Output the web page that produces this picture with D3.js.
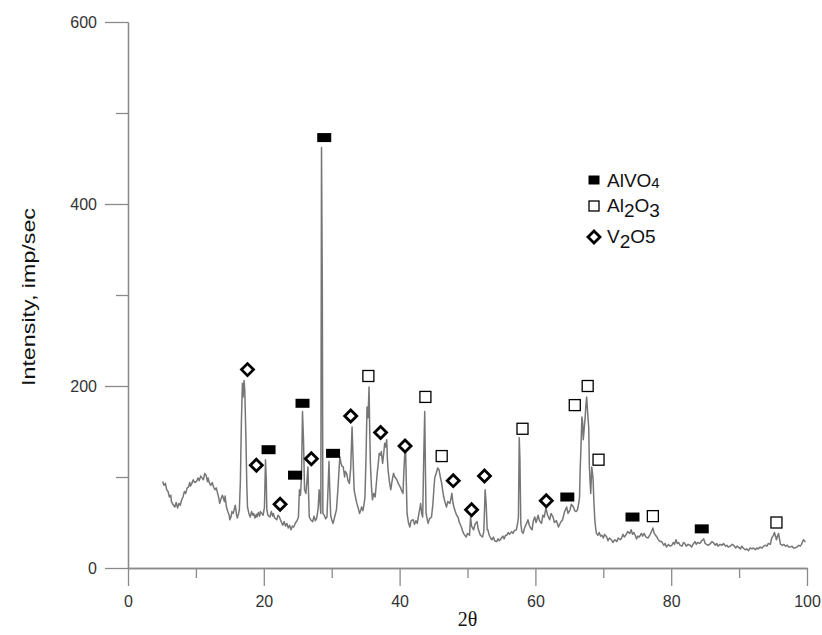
<!DOCTYPE html>
<html>
<head>
<meta charset="utf-8">
<script src="https://cdn.jsdelivr.net/npm/d3@7"></script>
<style>
  html, body { margin: 0; padding: 0; background: #fff; }
  svg { display: block; }
</style>
</head>
<body>
<svg id="chart" width="822" height="635"></svg>
<script>
// Diffractogram: [2θ, intensity (imp/sec)]
const pattern = [
  [5.1,95],[5.3,91],[5.5,93],[5.7,86],[5.9,84],[6.1,78],[6.3,80],[6.4,73],[6.6,70],[6.9,67],
  [7.1,72],[7.3,66],[7.5,71],[7.7,69],[7.9,75],[8.1,78],[8.3,84],[8.5,82],[8.7,88],[8.9,89],
  [9.1,94],[9.2,90],[9.4,93],[9.6,97],[9.8,94],[10.1,95],[10.3,99],[10.5,96],[10.7,101],[10.9,99],
  [11.1,97],[11.3,104],[11.5,102],[11.7,95],[11.8,99],[12.0,93],[12.2,91],[12.4,94],[12.6,89],[12.8,86],
  [13.0,88],[13.2,82],[13.4,76],[13.5,71],[13.7,76],[13.9,80],[14.0,78],[14.2,73],[14.3,79],[14.5,67],
  [14.7,62],[14.9,58],[15.0,53],[15.2,57],[15.3,62],[15.5,60],[15.7,66],[15.8,69],[16.0,58],[16.1,55],
  [16.3,60],[16.4,64],[16.55,95],[16.7,160],[16.85,203],[16.95,188],[17.1,206],[17.2,195],[17.35,148],[17.5,90],
  [17.6,67],[17.8,60],[18.0,56],[18.2,62],[18.4,58],[18.5,60],[18.7,55],[18.9,59],[19.0,56],[19.2,61],
  [19.4,57],[19.5,62],[19.7,60],[19.9,58],[20.1,67],[20.25,119],[20.35,100],[20.45,64],[20.6,58],[20.9,56],
  [21.1,62],[21.3,57],[21.4,60],[21.6,55],[21.9,53],[22.1,58],[22.3,56],[22.5,52],[22.8,47],[23.0,51],
  [23.2,46],[23.4,49],[23.6,44],[23.8,47],[24.0,42],[24.2,46],[24.4,45],[24.7,50],[24.9,52],[25.1,56],
  [25.25,86],[25.4,80],[25.55,100],[25.7,172],[25.85,140],[26.0,86],[26.2,82],[26.4,100],[26.5,111],[26.6,80],
  [26.7,56],[26.9,53],[27.2,51],[27.4,57],[27.6,52],[27.8,55],[28.0,65],[28.15,86],[28.3,70],[28.4,60],
  [28.5,462],[28.62,300],[28.7,60],[28.9,58],[29.1,54],[29.3,56],[29.5,95],[29.6,117],[29.7,90],[29.85,58],
  [30.0,53],[30.2,49],[30.4,55],[30.7,64],[30.9,85],[31.1,110],[31.2,122],[31.35,116],[31.5,112],[31.7,111],
  [31.9,100],[32.0,106],[32.2,104],[32.4,96],[32.6,93],[32.8,110],[33.0,155],[33.15,120],[33.3,86],[33.5,78],
  [33.7,71],[33.9,66],[34.1,60],[34.3,64],[34.4,67],[34.6,63],[34.8,72],[34.9,78],[35.05,120],[35.2,177],
  [35.35,165],[35.5,199],[35.6,150],[35.7,115],[35.85,90],[36.0,75],[36.2,82],[36.4,78],[36.6,95],[36.7,104],
  [36.9,118],[37.0,126],[37.2,124],[37.3,128],[37.5,115],[37.65,125],[37.8,137],[37.95,133],[38.1,141],[38.2,120],
  [38.3,108],[38.5,95],[38.7,86],[38.9,96],[39.1,104],[39.3,100],[39.6,97],[39.8,93],[40.1,89],[40.3,85],
  [40.5,82],[40.65,110],[40.8,130],[40.9,126],[41.0,90],[41.1,60],[41.3,50],[41.5,45],[41.7,52],[42.0,53],
  [42.2,48],[42.4,52],[42.6,49],[42.8,58],[43.0,66],[43.1,71],[43.25,60],[43.4,56],[43.55,120],[43.7,172],
  [43.8,110],[43.9,60],[44.1,52],[44.2,49],[44.4,54],[44.7,56],[44.9,70],[45.1,92],[45.2,100],[45.4,104],
  [45.6,110],[45.8,108],[46.0,100],[46.2,93],[46.35,85],[46.5,78],[46.7,72],[46.9,67],[47.1,73],[47.4,71],
  [47.55,76],[47.7,82],[47.85,72],[48.0,67],[48.2,62],[48.4,58],[48.6,56],[48.8,50],[49.1,45],[49.3,40],
  [49.5,37],[49.8,34],[50.0,38],[50.3,36],[50.45,56],[50.6,46],[50.9,42],[51.1,48],[51.4,51],[51.55,44],
  [51.7,40],[51.9,36],[52.2,34],[52.4,40],[52.6,86],[52.75,70],[52.9,42],[53.0,42],[53.2,36],[53.4,33],
  [53.6,31],[53.8,34],[54.0,30],[54.3,29],[54.5,32],[54.7,30],[55.0,33],[55.2,35],[55.4,32],[55.6,36],
  [55.8,36],[56.0,39],[56.2,37],[56.5,40],[56.7,38],[56.9,41],[57.2,42],[57.4,50],[57.5,56],[57.62,143],
  [57.72,120],[57.85,49],[58.0,40],[58.2,38],[58.4,44],[58.7,49],[58.9,53],[59.1,47],[59.3,44],[59.5,42],
  [59.7,52],[59.9,56],[60.1,50],[60.4,58],[60.6,52],[60.9,49],[61.1,58],[61.3,56],[61.55,66],[61.8,58],
  [62.1,53],[62.3,60],[62.6,56],[62.8,50],[63.1,52],[63.4,45],[63.7,50],[64.0,53],[64.3,62],[64.6,67],
  [64.8,60],[65.1,64],[65.3,70],[65.6,67],[65.8,63],[66.0,62],[66.2,64],[66.4,72],[66.5,78],[66.6,110],
  [66.7,130],[66.85,166],[66.95,160],[67.05,141],[67.15,150],[67.3,163],[67.45,180],[67.55,188],[67.7,170],[67.85,155],
  [67.95,111],[68.05,95],[68.15,82],[68.3,111],[68.4,105],[68.5,97],[68.6,75],[68.75,53],[68.9,42],[69.0,38],
  [69.2,36],[69.4,39],[69.6,35],[69.8,36],[70.0,33],[70.2,37],[70.5,34],[70.7,30],[70.9,33],[71.2,31],
  [71.4,28],[71.7,31],[72.0,29],[72.2,33],[72.5,31],[72.7,33],[72.9,37],[73.1,34],[73.3,36],[73.6,40],
  [73.9,38],[74.1,42],[74.3,37],[74.5,39],[74.7,36],[74.9,32],[75.1,35],[75.3,34],[75.6,38],[75.8,35],
  [76.0,38],[76.3,34],[76.6,33],[76.9,37],[77.1,40],[77.3,44],[77.5,38],[77.7,36],[77.9,34],[78.1,31],
  [78.4,29],[78.6,29],[78.9,25],[79.1,27],[79.3,23],[79.6,26],[79.8,24],[80.1,25],[80.3,28],[80.5,26],
  [80.7,31],[80.9,27],[81.1,28],[81.3,25],[81.6,24],[81.8,28],[82.0,27],[82.2,24],[82.5,26],[82.8,25],
  [83.0,23],[83.3,27],[83.5,29],[83.7,26],[83.9,28],[84.2,27],[84.5,30],[84.8,32],[85.0,27],[85.2,26],
  [85.5,25],[85.8,27],[86.0,29],[86.2,28],[86.5,25],[86.7,27],[86.9,24],[87.2,26],[87.5,25],[87.7,27],
  [88.0,24],[88.2,25],[88.4,23],[88.7,24],[89.0,26],[89.2,25],[89.5,22],[89.7,24],[89.9,23],[90.2,21],
  [90.4,24],[90.6,22],[90.9,20],[91.1,21],[91.4,19],[91.6,22],[91.9,21],[92.1,22],[92.4,20],[92.6,22],
  [92.8,21],[93.1,23],[93.4,22],[93.6,24],[93.9,25],[94.1,24],[94.3,27],[94.6,26],[94.8,33],[95.0,35],
  [95.2,39],[95.4,34],[95.5,31],[95.7,36],[95.8,38],[96.0,30],[96.1,26],[96.4,25],[96.6,26],[96.8,24],
  [97.1,25],[97.3,23],[97.5,23],[97.8,24],[98.0,22],[98.2,22],[98.5,23],[98.8,25],[99.0,24],[99.2,26],
  [99.4,30],[99.5,31],[99.7,29],[99.8,29]
];

// Phase markers: [2θ, height at which the marker sits]
const alvo4Marks = [[20.7,130],[24.6,102],[25.7,181],[28.9,473],[30.2,126],[64.7,78],[74.3,56],[84.5,43]];
const al2o3Marks = [[35.4,211],[43.8,188],[46.2,123],[58.1,153],[65.8,179],[67.7,200],[69.3,119],[77.3,57],[95.5,50]];
const v2o5Marks  = [[17.6,218],[18.9,113],[22.4,70],[27.0,120],[32.8,167],[37.2,149],[40.8,134],[47.9,96],[50.6,64],[52.5,101],[61.6,74]];

// Axis ticks
const xMajorTicks = [0, 20, 40, 60, 80, 100];
const xMinorTicks = [10, 30, 50, 70, 90];
const yMajorTicks = [0, 200, 400, 600];
const yMinorTicks = [100, 300, 500];

const svg = d3.select("#chart");
const axisColor = "#8a8a8a";
const labelColor = "#333";

const x = d3.scaleLinear().domain([0, 100]).range([128, 807]);
const y = d3.scaleLinear().domain([0, 600]).range([568, 22]);

function styleAxis(g) {
  g.selectAll("path.domain").attr("stroke", axisColor).attr("stroke-width", 1.3);
  g.selectAll(".tick line").attr("stroke", axisColor).attr("stroke-width", 1.3);
  g.selectAll(".tick text")
    .attr("fill", labelColor)
    .style("font-family", "'Liberation Sans', Arial, sans-serif")
    .style("font-size", "16px");
}

// y axis
svg.append("g")
  .attr("transform", `translate(${x(0)},0)`)
  .call(d3.axisLeft(y).tickValues(yMajorTicks).tickSize(23).tickSizeOuter(0).tickPadding(8).tickFormat(d3.format("d")))
  .call(styleAxis);
svg.append("g")
  .attr("transform", `translate(${x(0)},0)`)
  .call(d3.axisLeft(y).tickValues(yMinorTicks).tickSize(12).tickSizeOuter(0).tickFormat(""))
  .call(styleAxis);

// x axis
svg.append("g")
  .attr("transform", `translate(0,${y(0)})`)
  .call(d3.axisBottom(x).tickValues(xMajorTicks).tickSize(18).tickSizeOuter(0).tickPadding(10).tickFormat(d3.format("d")))
  .call(styleAxis);
svg.append("g")
  .attr("transform", `translate(0,${y(0)})`)
  .call(d3.axisBottom(x).tickValues(xMinorTicks).tickSize(10).tickSizeOuter(0).tickFormat(""))
  .call(styleAxis);

// axis titles
svg.append("text")
  .attr("transform", `translate(30,${(y(0) + y(600)) / 2 + 2}) rotate(-90)`)
  .attr("text-anchor", "middle")
  .attr("dominant-baseline", "middle")
  .attr("textLength", 178)
  .attr("lengthAdjust", "spacingAndGlyphs")
  .style("font-family", "'Liberation Sans', Arial, sans-serif")
  .style("font-size", "18px")
  .attr("fill", "#111")
  .text("Intensity, imp/sec");

svg.append("text")
  .attr("x", (x(0) + x(100)) / 2)
  .attr("y", 626)
  .attr("text-anchor", "middle")
  .style("font-family", "'Liberation Serif', 'Times New Roman', serif")
  .style("font-size", "20px")
  .attr("fill", "#111")
  .text("2θ");

// diffraction trace
const line = d3.line().x(d => x(d[0])).y(d => y(d[1]));
svg.append("path")
  .datum(pattern)
  .attr("fill", "none")
  .attr("stroke", "#767676")
  .attr("stroke-width", 1.5)
  .attr("stroke-linejoin", "round")
  .attr("d", line);

// marker drawers
const diamondPath = r => `M0,${-r}L${r},0L0,${r}L${-r},0Z`;

function drawFilled(g, cx, cy, w, h) {
  g.append("rect").attr("x", cx - w / 2).attr("y", cy - h / 2)
    .attr("width", w).attr("height", h).attr("fill", "#000");
}
function drawOpen(g, cx, cy, s) {
  g.append("rect").attr("x", cx - s / 2).attr("y", cy - s / 2)
    .attr("width", s).attr("height", s)
    .attr("fill", "#fff").attr("stroke", "#000").attr("stroke-width", 1.3);
}
function drawDiamond(g, cx, cy, r) {
  g.append("path").attr("transform", `translate(${cx},${cy})`)
    .attr("d", diamondPath(r))
    .attr("fill", "#fff").attr("stroke", "#000").attr("stroke-width", 2.8);
}

const marks = svg.append("g");
alvo4Marks.forEach(d => drawFilled(marks, x(d[0]), y(d[1]), 14, 9));
al2o3Marks.forEach(d => drawOpen(marks, x(d[0]), y(d[1]), 11));
v2o5Marks.forEach(d => drawDiamond(marks, x(d[0]), y(d[1]), 6));

// legend
const legend = svg.append("g")
  .style("font-family", "'Liberation Sans', Arial, sans-serif")
  .style("font-size", "19px")
  .attr("fill", "#111");
const lx = 594, tx = 607;

drawFilled(legend, lx, 180, 11, 9);
const t1 = legend.append("text").attr("x", tx).attr("y", 187);
t1.append("tspan").text("AlVO");
t1.append("tspan").attr("font-size", "15px").attr("dy", 1).text("4");

drawOpen(legend, lx, 206, 10);
const t2 = legend.append("text").attr("x", tx).attr("y", 212);
t2.append("tspan").text("Al");
t2.append("tspan").attr("dy", 5).text("2");
t2.append("tspan").attr("dy", -5).text("O");
t2.append("tspan").attr("dy", 5).text("3");

drawDiamond(legend, lx, 237, 6);
const t3 = legend.append("text").attr("x", tx).attr("y", 243);
t3.append("tspan").text("V");
t3.append("tspan").attr("dy", 5).text("2");
t3.append("tspan").attr("dy", -5).text("O5");
</script>
</body>
</html>
